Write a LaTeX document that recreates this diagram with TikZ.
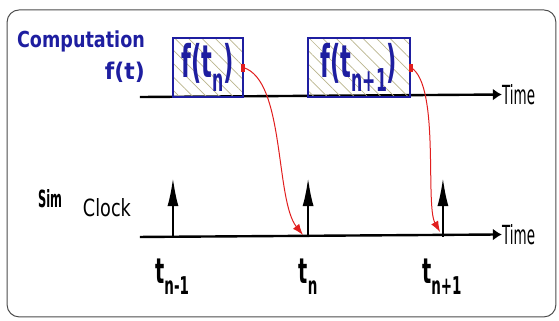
\documentclass[tikz,border=0pt]{standalone}
\usepackage{fontspec}
\setmainfont{DejaVu Sans}
\usetikzlibrary{arrows.meta,patterns.meta}
\definecolor{azul}{RGB}{30,30,160}
\definecolor{rayas}{RGB}{185,180,140}
\definecolor{rojo}{RGB}{225,30,30}
\newcommand{\low}[1]{\raisebox{-0.3em}{\scalebox{0.7}{#1}}}
\newcommand{\nrw}[2]{\scalebox{#1}[1]{#2}}

\begin{document}
\begin{tikzpicture}[>=Latex,
		caja/.style={draw=azul, line width=1.8pt, minimum width=2.46cm, minimum height=2.07cm, inner sep=0pt,
			pattern={Lines[angle=-45, distance=9.5pt, line width=0.7pt]}, pattern color=rayas,
			text=azul, font=\bfseries\fontsize{45}{45}\selectfont},
		eje/.style={line width=2.4pt, -{Latex[length=9pt,width=12pt]}},
		pulso/.style={line width=2pt, -{Latex[length=28pt,width=11pt]}},
		salto/.style={rojo, line width=1pt, -{Latex[length=11pt,width=8pt]}},
		titulo/.style={text=azul, font=\bfseries\fontsize{22}{24}\selectfont, inner sep=0pt, anchor=east},
		tiempo/.style={anchor=west, inner sep=0pt, xshift=10pt, yshift=2.5pt},
		tlab/.style={inner sep=0pt, font=\bfseries\fontsize{35}{35}\selectfont}]
	\useasboundingbox (0,0) rectangle (19.65,11.25);
	\draw[gray!60!black, line width=1pt, rounded corners=12pt] (0.25,0.11) rectangle (19.54,10.90);

	% computation line
	\node[titulo] (comp) at (5.10,9.79) {\nrw{0.8}{Computation}};
	\node[titulo, font=\bfseries\fontsize{23}{24}\selectfont] (ft) at (5.10,8.70) {\nrw{0.95}{f(t)}};
	\coordinate (c0) at (4.92,7.84);
	\node[tiempo] (time1) at (17.29,7.84) {\resizebox{33pt}{20pt}{Time}};
	\draw[eje] (c0) -- (time1.west);
	\node[caja] (f1) at (7.31,8.875) {\nrw{0.5}{f(t\low{n})}};
	\node[caja, minimum width=3.59cm] (f2) at (12.62,8.875) {\nrw{0.5}{f(t\low{n+1})}};

	% sim clock line
	\node[inner sep=0pt] (sim) at (1.76,4.25) {\resizebox{24pt}{18pt}{\bfseries Sim}};
	\node[inner sep=0pt] (clock) at (3.76,3.94) {\resizebox{48pt}{18pt}{Clock}};
	\coordinate (d0) at (4.92,2.92);
	\node[tiempo] (time2) at (17.29,2.92) {\resizebox{33pt}{20pt}{Time}};
	\draw[eje] (d0) -- (time2.west);
	\coordinate (k1) at (6.08,2.92);
	\coordinate (k2) at (10.83,2.92);
	\coordinate (k3) at (15.57,2.92);
	\draw[pulso] (k1) -- (6.08,4.99);
	\draw[pulso] (k2) -- (10.83,4.99);
	\draw[pulso] (k3) -- (15.57,4.99);
	\node[tlab] (t1) at (6.05,1.53) {\nrw{0.55}{t\low{n-1}}};
	\node[tlab] (t2) at (10.83,1.53) {\nrw{0.55}{t\low{n}}};
	\node[tlab] (t3) at (15.53,1.53) {\nrw{0.55}{t\low{n+1}}};

	% jumps
	\coordinate (e1) at (10.65,2.99);
	\coordinate (e2) at (15.47,3.09);
	\draw[salto] (f1.east) .. controls (10.02,8.44) and (9.67,4.22) .. (e1);
	\draw[salto] (f2.east) .. controls (15.47,8.26) and (14.94,4.04) .. (e2);
	\fill[rojo] ([shift={(-2pt,-4pt)}]f1.east) rectangle ++(4pt,8pt);
	\fill[rojo] ([shift={(-2pt,-4pt)}]f2.east) rectangle ++(4pt,8pt);
\end{tikzpicture}
\end{document}
